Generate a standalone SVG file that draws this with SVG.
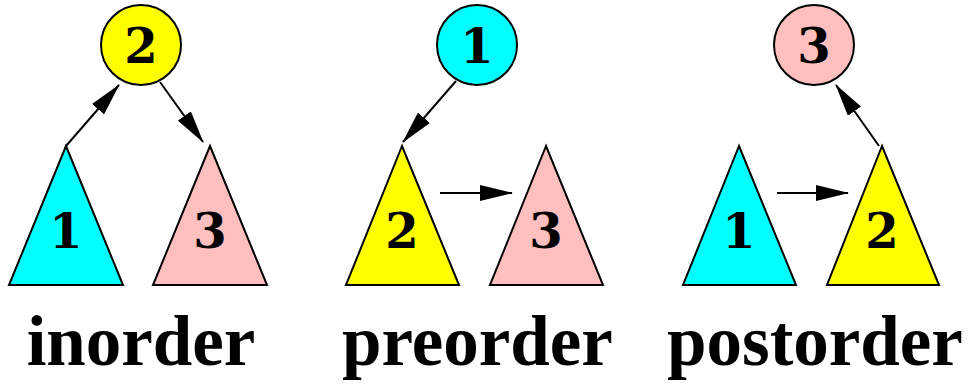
<svg xmlns="http://www.w3.org/2000/svg" width="971" height="387" viewBox="0 0 971 387">
<style>
.n{stroke:#000;stroke-width:2}
.y{fill:#ffff00}.c{fill:#00ffff}.p{fill:#ffbfbf}
.d{font-family:"DejaVu Serif","Liberation Serif",serif;font-weight:bold;font-size:48px;text-anchor:middle;fill:#000}
.l{font-family:"Liberation Serif","Times New Roman",serif;font-weight:bold;font-size:71px;text-anchor:middle;fill:#000}
.e{stroke:#000;stroke-width:2;fill:none;marker-end:url(#ah)}
</style>
<defs>
<marker id="ah" markerWidth="33" markerHeight="16" refX="32" refY="8" orient="auto" markerUnits="userSpaceOnUse"><path d="M0,0 L33,8 L0,16 z" fill="#000"/></marker>
</defs>
<rect width="971" height="387" fill="#fff"/>
<g id="inorder">
<g id="in-root"><circle class="n y" cx="141" cy="45" r="40"/><text class="d" x="141" y="63">2</text></g>
<g id="in-left"><polygon class="n c" points="66,146 9,285 123,285"/><text class="d" x="66" y="248">1</text></g>
<g id="in-right"><polygon class="n p" points="210,146 153,285 267,285"/><text class="d" x="210" y="248">3</text></g>
<text class="l" x="141" y="365">inorder</text>
</g>
<g id="preorder">
<g id="pre-root"><circle class="n c" cx="477" cy="45" r="40"/><text class="d" x="477" y="63">1</text></g>
<g id="pre-left"><polygon class="n y" points="402,146 346,285 459,285"/><text class="d" x="402" y="248">2</text></g>
<g id="pre-right"><polygon class="n p" points="546,146 490,285 603,285"/><text class="d" x="546" y="248">3</text></g>
<text class="l" x="477.5" y="365">preorder</text>
</g>
<g id="postorder">
<g id="post-root"><circle class="n p" cx="814" cy="45" r="40"/><text class="d" x="814" y="63">3</text></g>
<g id="post-left"><polygon class="n c" points="739,146 683,285 796,285"/><text class="d" x="739" y="248">1</text></g>
<g id="post-right"><polygon class="n y" points="882,146 827,285 939,285"/><text class="d" x="882" y="248">2</text></g>
<text class="l" x="815" y="365">postorder</text>
</g>
<g id="connectors">
<line class="e" x1="66" y1="146" x2="119" y2="85"/>
<line class="e" x1="160" y1="82" x2="203" y2="142"/>
<line class="e" x1="456" y1="81" x2="403" y2="142"/>
<line class="e" x1="440" y1="193" x2="512" y2="193"/>
<line class="e" x1="777" y1="193" x2="848" y2="193"/>
<line class="e" x1="879" y1="146" x2="836" y2="85"/>
</g>
</svg>
